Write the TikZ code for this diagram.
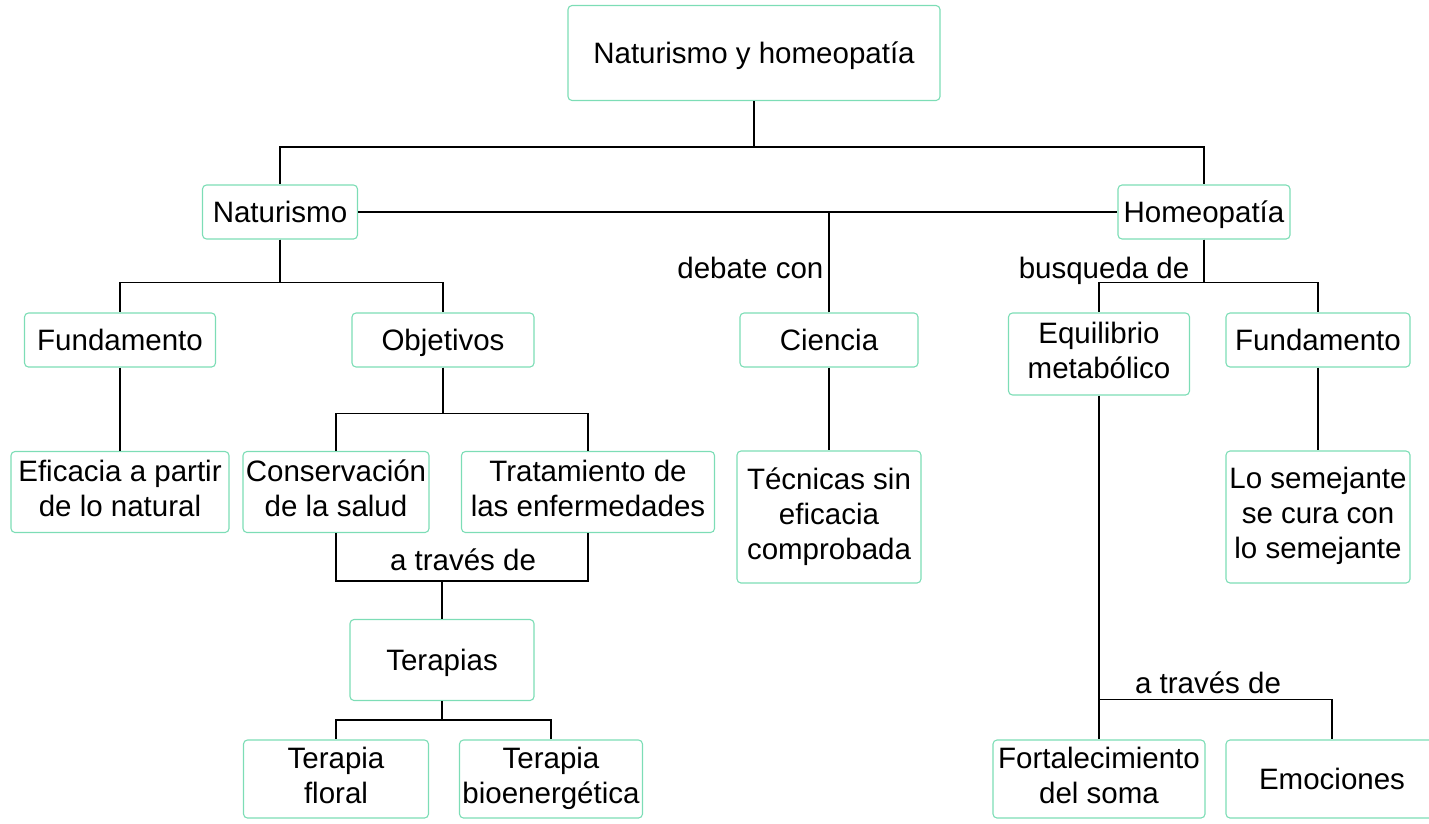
\documentclass[tikz,border=0pt]{standalone}
\usepackage{fontspec}
\setmainfont{Liberation Sans}
\usepackage{tikz}
\definecolor{verde}{RGB}{125,221,182}
\newcommand{\puntal}{\rule[-7.5pt]{0pt}{35pt}}

\begin{document}
\begin{tikzpicture}[x=1pt, y=-1pt, line width=1.3pt,
  caja/.style={draw=verde, line width=1.1pt, rounded corners=4pt, align=center,
    inner sep=0pt, font=\fontsize{29.5}{35}\selectfont,
    execute at begin node=\puntal, execute at end node=\puntal},
  rotulo/.style={font=\fontsize{29.5}{35}\selectfont, inner sep=0pt,
    execute at begin node=\puntal}]
  \useasboundingbox (0,0) rectangle (1429,823);

  \node[caja, minimum width=372, minimum height=95] (top) at (754,53) {Naturismo y homeopatía};
  \node[caja, minimum width=155, minimum height=54] (nat) at (280,212) {Naturismo};
  \node[caja, minimum width=172, minimum height=54] (hom) at (1204,212) {Homeopatía};

  \node[caja, minimum width=191, minimum height=54] (fund1) at (120,340) {Fundamento};
  \node[caja, minimum width=182, minimum height=54] (obj) at (443,340) {Objetivos};
  \node[caja, minimum width=178, minimum height=54] (cien) at (829,340) {Ciencia};
  \node[caja, minimum width=181, minimum height=82] (equi) at (1099,354) {Equilibrio\\metabólico};
  \node[caja, minimum width=184, minimum height=54] (fund2) at (1318,340) {Fundamento};

  \node[caja, minimum width=218, minimum height=81] (efic) at (120,492) {Eficacia a partir\\de lo natural};
  \node[caja, minimum width=186, minimum height=81] (cons) at (336,492) {Conservación\\de la salud};
  \node[caja, minimum width=253, minimum height=81] (trat) at (588,492) {Tratamiento de\\las enfermedades};
  \node[caja, minimum width=184, minimum height=132] (tecn) at (829,517) {Técnicas sin\\eficacia\\comprobada};
  \node[caja, minimum width=184, minimum height=132] (seme) at (1318,517) {Lo semejante\\se cura con\\lo semejante};

  \node[caja, minimum width=184, minimum height=81] (tera) at (442,660) {Terapias};
  \node[caja, minimum width=185, minimum height=78] (flor) at (336,779) {Terapia\\floral};
  \node[caja, minimum width=183, minimum height=78] (bioe) at (551,779) {Terapia\\bioenergética};
  \node[caja, minimum width=212, minimum height=78] (fort) at (1099,779) {Fortalecimiento\\del soma};
  \node[caja, minimum width=212, minimum height=78] (emoc) at (1332,779) {Emociones};

  % etiquetas
  \node[rotulo, anchor=east] (deb) at (824,268) {debate con};
  \node[rotulo, anchor=east] (bus) at (1190,268) {busqueda de};
  \node[rotulo] (atr1) at (463,560) {a través de};
  \node[rotulo] (atr2) at (1208,683) {a través de};

  \draw (top.south) -- ++(0,46) -| (nat.north);
  \draw (top.south) -- ++(0,46) -| (hom.north);
  \draw (nat.east) -- (hom.west);
  \draw (cien.north) -- (cien.north |- nat.east);
  \draw (cien) -- (tecn);

  \draw (nat.south) -- ++(0,43) -| (fund1.north);
  \draw (nat.south) -- ++(0,43) -| (obj.north);
  \draw (fund1) -- (efic);
  \draw (obj.south) -- ++(0,46) -| (cons.north);
  \draw (obj.south) -- ++(0,46) -| (trat.north);
  \draw (cons.south) -- ++(0,48) coordinate (ct) -| (trat.south);
  \draw (tera.north) -- (tera.north |- ct);
  \draw (tera.south) -- ++(0,19) -| (flor.north);
  \draw (tera.south) -- ++(0,19) -| (bioe.north);

  \draw (hom.south) -- ++(0,43) -| (equi.north);
  \draw (hom.south) -- ++(0,43) -| (fund2.north);
  \draw (fund2) -- (seme);
  \draw (equi) -- (fort);
  \draw (fort.north) ++(0,-40) coordinate (fe) -| (emoc.north);
\end{tikzpicture}
\end{document}
